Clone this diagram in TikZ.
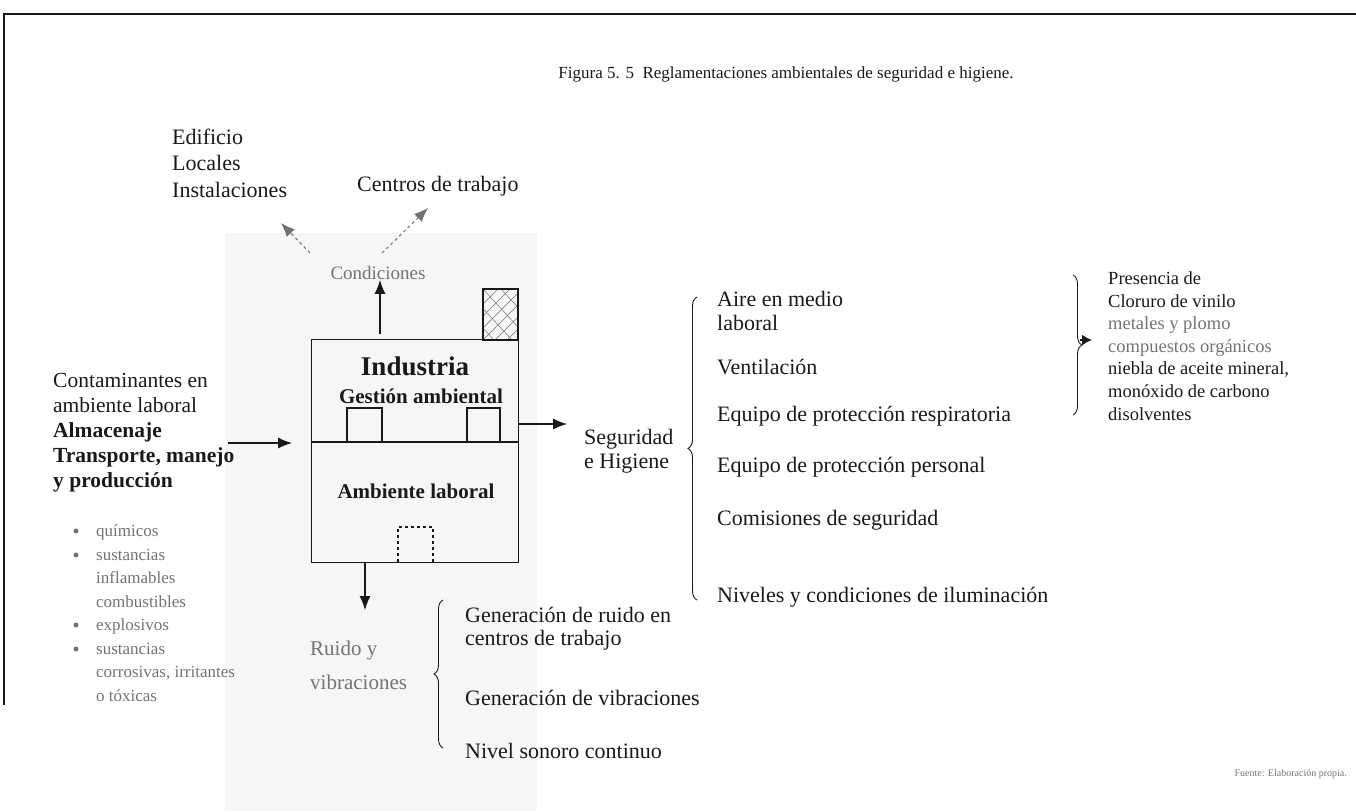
\documentclass[tikz,border=0pt]{standalone}
\usepackage{fontspec}
\setmainfont{Liberation Serif}
\usetikzlibrary{arrows.meta,decorations.pathreplacing}
\definecolor{panel}{gray}{0.965}
\definecolor{soft}{gray}{0.45}
\definecolor{ink}{gray}{0.1}
\begin{document}
\begin{tikzpicture}[x=1pt,y=-1pt,
  txt/.style={anchor=west,inner sep=0pt,align=left,text=ink,
              font=\fontsize{22}{24}\selectfont},
  small/.style={anchor=west,inner sep=0pt,align=left,text=soft,
              font=\fontsize{17}{23.5}\selectfont},
  arr/.style={-{Latex[length=14pt,width=11pt]},line width=1.2pt,draw=ink},
  darr/.style={-{Latex[length=14pt,width=11pt]},line width=1pt,draw=soft,dashed},
  wall/.style={line width=1.1pt,draw=ink},
  bracel/.style={decorate,decoration={brace,amplitude=9pt},line width=0.9pt,draw=ink},
  dot/.style={circle,fill=soft,inner sep=0pt,minimum size=5pt}]
\useasboundingbox (0,0) rectangle (1356,811);

% light panel behind the building
\fill[panel] (225,233) rectangle (537,811);

% page frame
\draw[line width=1.2pt,draw=ink] (1356,14) -- (4,14) -- (4,705);

% title
\node[inner sep=0pt,text=ink,font=\fontsize{17}{20}\selectfont] (title) at (786,74)
  {Figura 5. 5\ \ Reglamentaciones ambientales de seguridad e higiene.};

% building: upper and lower parts
\node[inner sep=0pt,minimum width=206pt,minimum height=102pt] (ind) at (415,391) {};
\node[inner sep=0pt,minimum width=206pt,minimum height=120pt] (amb) at (415,502) {};
\draw[wall] (ind.north west) rectangle (ind.south east);
\draw[wall] (amb.north west) rectangle (amb.south east);
\node[inner sep=0pt,text=ink,font=\fontsize{27}{28}\selectfont\bfseries] (indt) at (415,366) {Industria};
\node[inner sep=0pt,text=ink,font=\fontsize{21}{22}\selectfont\bfseries] (gest) at (421,396) {Gestión ambiental};
\node[inner sep=0pt,text=ink,font=\fontsize{21}{22}\selectfont\bfseries] (ambt) at (416,491) {Ambiente laboral};
% openings on the floor line
\draw[wall] (347,442) -- (347,408) -- (382,408) -- (382,442);
\draw[wall] (467,442) -- (467,408) -- (500,408) -- (500,442);
\draw[wall,dashed] (398,562) -- (398,527) -- (433,527) -- (433,562);
% chimney with sparse hatching
\begin{scope}
  \clip (483,289) rectangle (518,340);
  \foreach \k in {-60,-48,...,60}
    \draw[soft,line width=0.6pt] (483+\k,340) -- (535+\k,288);
  \foreach \k in {-54,-36,...,60}
    \draw[soft,line width=0.5pt] (483+\k,289) -- (530+\k,340);
\end{scope}
\draw[wall] (483,289) rectangle (518,340);

% upward conditions
\node[inner sep=0pt,text=soft,font=\fontsize{19}{20}\selectfont] (cond) at (378,273) {Condiciones};
\node[txt,font=\fontsize{22}{26.5}\selectfont] (edif) at (172,163) {Edificio\\Locales\\Instalaciones};
\node[txt] (cent) at (357,186) {Centros de trabajo};
\coordinate (upfoot) at (380,334);
\draw[arr] (upfoot) -- (cond.south -| 380,0);
\coordinate (dl) at (310,253);
\coordinate (dr) at (382,253);
\draw[darr] (dl) -- (281,223);
\draw[darr] (dr) -- (428,208);

% left inputs
\node[txt,font=\fontsize{21.5}{25}\selectfont] (cont) at (53,433) {Contaminantes en\\ambiente laboral\\\textbf{Almacenaje}\\\textbf{Transporte, manejo}\\\textbf{y producción}};
\coordinate (inl) at (228,443);
\coordinate (inr) at (292,443);
\draw[arr] (inl) -- (inr);

% bullet list
\node[small] (bl) at (96,613) {químicos\\sustancias\\inflamables\\combustibles\\explosivos\\sustancias\\corrosivas, irritantes\\o tóxicas};
\foreach \y in {531,555,625,649} \node[dot] at (76,\y) {};

% safety and hygiene
\node[txt] (seg) at (584,451) {Seguridad\\e Higiene};
\coordinate (segin) at (567,424);
\draw[arr] (ind.east |- 0,424) -- (segin);
\draw[bracel] (697,600) -- (697,297);
\node[txt] (i1) at (717,311) {Aire en medio\\laboral};
\node[txt] (i2) at (717,367) {Ventilación};
\node[txt] (i3) at (717,416) {Equipo de protección respiratoria};
\node[txt] (i4) at (717,467) {Equipo de protección personal};
\node[txt] (i5) at (717,520) {Comisiones de seguridad};
\node[txt] (i6) at (717,597) {Niveles y condiciones de iluminación};

% substances present
\draw[bracel] (1073,275) -- (1073,415);
\coordinate (bt) at (1080,340);
\draw[-{Latex[length=10pt,width=11pt]},line width=1.6pt,draw=ink] (bt) -- (1092,340);
\node[anchor=west,inner sep=0pt,align=left,text=ink,font=\fontsize{18.5}{22.6}\selectfont] (pres) at (1108,346)
  {Presencia de\\Cloruro de vinilo\\\textcolor{soft}{metales y plomo}\\\textcolor{soft}{compuestos orgánicos}\\niebla de aceite mineral,\\monóxido de carbono\\disolventes};

% noise and vibration
\node[inner sep=0pt,align=left,anchor=west,text=soft,font=\fontsize{21}{34}\selectfont] (ruido) at (310,665) {Ruido y\\vibraciones};
\draw[arr] (amb.south -| 365,0) -- (365,610);
\draw[bracel] (443,748) -- (443,600);
\node[txt,font=\fontsize{22}{23}\selectfont] (r1) at (465,629) {Generación de ruido en\\centros de trabajo};
\node[txt] (r2) at (465,698) {Generación de vibraciones};
\node[txt] (r3) at (465,751) {Nivel sonoro continuo};

% source
\node[anchor=east,inner sep=0pt,text=soft,font=\fontsize{10}{12}\selectfont] (src) at (1347,774) {Fuente: Elaboración propia.};
\end{tikzpicture}
\end{document}
